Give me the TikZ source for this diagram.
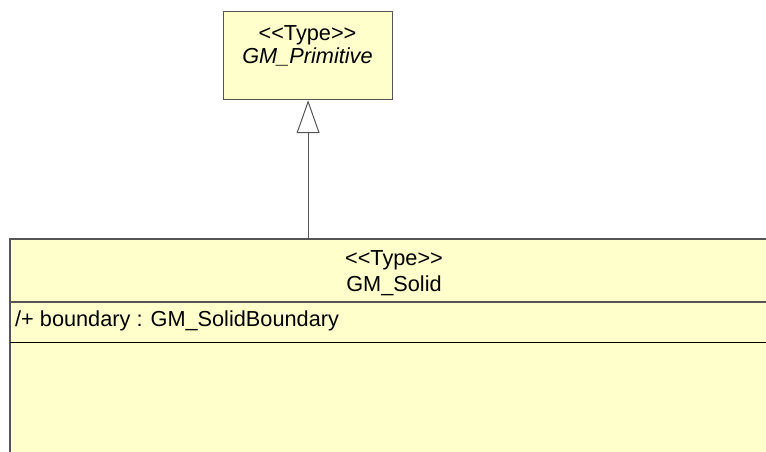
\documentclass[tikz,border=0pt]{standalone}
\usepackage{fontspec}
\setmainfont{Liberation Sans}[Ligatures=TeXOff]
\usetikzlibrary{arrows.meta}
\definecolor{umlfill}{HTML}{FFFFCC}
\definecolor{umlline}{HTML}{555555}
\begin{document}
\begin{tikzpicture}[x=1bp,y=-1bp,
  classbox/.style={draw=umlline, fill=umlfill, line width=1.2bp, inner sep=0pt},
  openbox/.style={draw=none, fill=umlfill, inner sep=0pt, outer sep=0pt},
  edge/.style={draw=umlline, line width=1.2bp},
  lbl/.style={font=\fontsize{21.8}{24}\selectfont, anchor=base, inner sep=0pt},
  gen/.style={draw=umlline, line width=1bp, -{Triangle[open, length=33bp, width=23bp, fill=white]}}]
\useasboundingbox (0,0) rectangle (766,452);
% top class
\node[classbox, minimum width=169bp, minimum height=88bp, anchor=north west] (prim) at (223,11) {};
\node[lbl] (primst) at (307.5,41) {<<Type>>};
\node[lbl, font=\fontsize{21.8}{24}\selectfont\itshape] (primname) at (307.5,64) {GM\_Primitive};
% bottom class (cut off by the right and bottom edges)
\node[openbox, minimum width=757bp, minimum height=214bp, anchor=north west] (solid) at (10,239) {};
\draw[edge] (solid.south west) -- (solid.north west) -- (solid.north east);
\coordinate (sepAl) at (10,302);
\coordinate (sepAr) at (767,302);
\coordinate (sepBl) at (10,343);
\coordinate (sepBr) at (767,343);
\draw[edge] (sepAl) -- (sepAr);
\draw[draw=black, line width=1bp] (sepBl) -- (sepBr);
\node[lbl] (solidst) at (394,266) {<<Type>>};
\node[lbl] (solidname) at (394,292) {GM\_Solid};
\node[lbl, anchor=base west] (attr) at (15,327) {/+ boundary : GM\_SolidBoundary};
% generalization
\coordinate (genstart) at (prim.south |- solid.north);
\draw[gen] (genstart) -- (prim.south);
\end{tikzpicture}
\end{document}
